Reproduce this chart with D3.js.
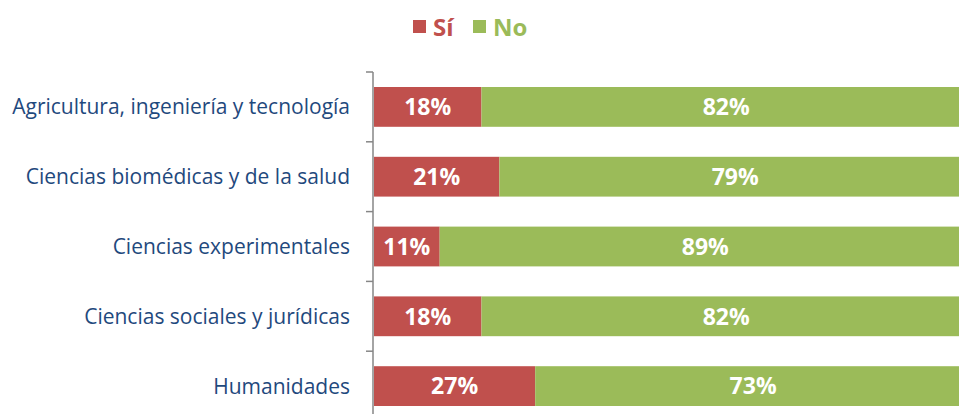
<!DOCTYPE html>
<html>
<head>
<meta charset="utf-8">
<script src="https://cdn.jsdelivr.net/npm/d3@7"></script>
<style>
  body { margin: 0; background: #fff; }
  svg { display: block; font-family: "Open Sans", "Noto Sans", sans-serif; }
</style>
</head>
<body>
<div id="chart"></div>
<script>
// data
var categories = [
  "Agricultura, ingeniería y tecnología",
  "Ciencias biomédicas y de la salud",
  "Ciencias experimentales",
  "Ciencias sociales y jurídicas",
  "Humanidades"
];
var siValues = [18, 21, 11, 18, 27];
var noValues = [82, 79, 89, 82, 73];
var seriesNames = ["Sí", "No"];
var seriesColors = ["#C0504D", "#9BBB59"];

var width = 959, height = 414;
var axisX = 373;

var svg = d3.select("#chart").append("svg")
  .attr("width", width)
  .attr("height", height);

var y = d3.scaleBand()
  .domain(categories)
  .range([72, 421])
  .paddingInner(0.43)
  .paddingOuter(0.215);

var x = d3.scaleLinear()
  .domain([0, 100])
  .range([axisX + 1, 971]);

var rows = categories.map(function (c, i) {
  return { cat: c, values: [siValues[i], noValues[i]] };
});

// stacked segments
var stack = d3.stack().keys([0, 1]).value(function (d, k) { return d.values[k]; });
var layers = stack(rows);

var g = svg.selectAll("g.layer")
  .data(layers)
  .enter().append("g")
  .attr("class", "layer")
  .attr("fill", function (d, i) { return seriesColors[i]; });

g.selectAll("rect")
  .data(function (d) { return d; })
  .enter().append("rect")
  .attr("x", function (d) { return x(d[0]); })
  .attr("y", function (d) { return y(d.data.cat); })
  .attr("width", function (d) { return x(d[1]) - x(d[0]); })
  .attr("height", y.bandwidth());

g.selectAll("text")
  .data(function (d) { return d; })
  .enter().append("text")
  .attr("x", function (d) { return (x(d[0]) + x(d[1])) / 2; })
  .attr("y", function (d) { return y(d.data.cat) + y.bandwidth() / 2; })
  .attr("dy", "0.36em")
  .attr("text-anchor", "middle")
  .attr("fill", "#fff")
  .style("font-size", "23px")
  .style("font-weight", "bold")
  .text(function (d) { return (d[1] - d[0]) + "%"; });

// category axis (ticks between bars)
var step = y.step();
var tickYs = d3.range(categories.length + 1).map(function (i) { return 72 + i * step; });

svg.append("line")
  .attr("x1", axisX).attr("x2", axisX)
  .attr("y1", 72).attr("y2", 421)
  .attr("stroke", "#868686")
  .attr("stroke-width", 1.5);

svg.selectAll("line.tick")
  .data(tickYs)
  .enter().append("line")
  .attr("class", "tick")
  .attr("x1", axisX - 7).attr("x2", axisX)
  .attr("y1", function (d) { return d; })
  .attr("y2", function (d) { return d; })
  .attr("stroke", "#868686")
  .attr("stroke-width", 1.5);

svg.selectAll("text.cat")
  .data(categories)
  .enter().append("text")
  .attr("class", "cat")
  .attr("x", 350)
  .attr("y", function (d) { return y(d) + y.bandwidth() / 2; })
  .attr("dy", "0.36em")
  .attr("text-anchor", "end")
  .attr("fill", "#1F497D")
  .style("font-size", "21px")
  .text(function (d) { return d; });

// legend
var legend = svg.append("g");
var legendX = [413, 473];
seriesNames.forEach(function (name, i) {
  legend.append("rect")
    .attr("x", legendX[i]).attr("y", 20)
    .attr("width", 13).attr("height", 13)
    .attr("fill", seriesColors[i]);
  legend.append("text")
    .attr("x", legendX[i] + 20).attr("y", 27)
    .attr("dy", "0.36em")
    .attr("fill", seriesColors[i])
    .style("font-size", "24px")
    .style("font-weight", "bold")
    .text(name);
});
</script>
</body>
</html>
